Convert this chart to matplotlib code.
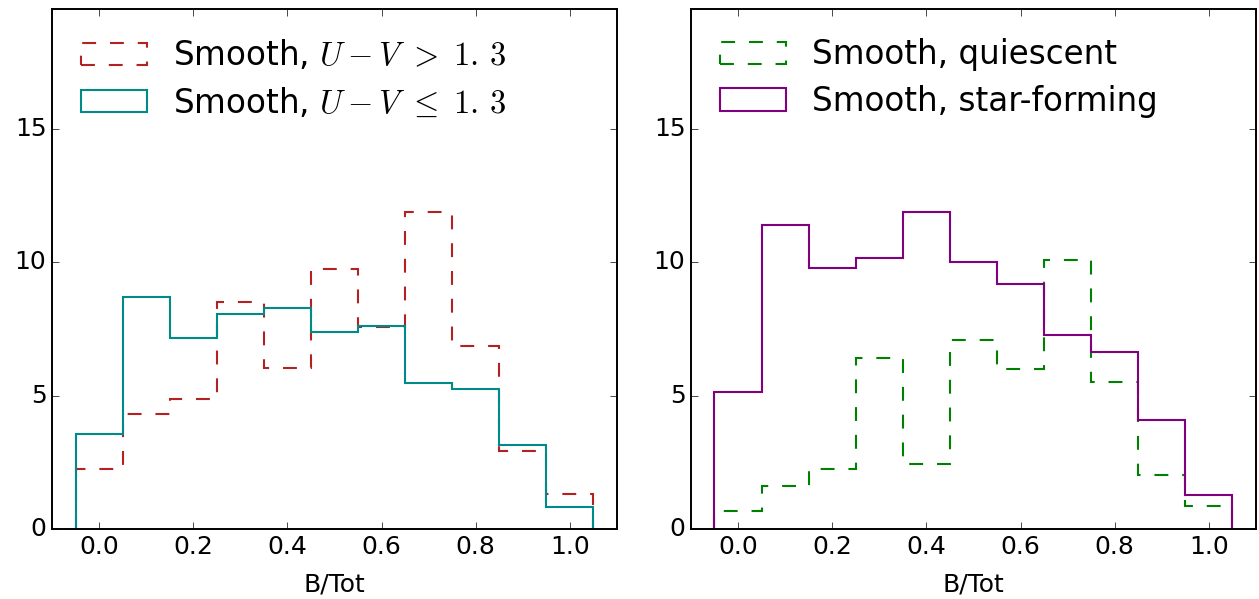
import numpy as np
import matplotlib
matplotlib.use("Agg")
import matplotlib.pyplot as plt

# bin edges for B/Tot, centred on 0.0, 0.1, ... 1.0
bin_edges = np.linspace(-0.05, 1.05, 12)
bin_centres = np.linspace(0.0, 1.0, 11)

# left panel: split by U-V colour
red_uv = [2.26, 4.31, 4.88, 8.50, 6.03, 9.75, 7.57, 11.87, 6.88, 2.91, 1.32]
blue_uv = [3.56, 8.71, 7.16, 8.08, 8.30, 7.38, 7.61, 5.49, 5.25, 3.16, 0.81]

# right panel: split by star formation
quiescent = [0.66, 1.63, 2.26, 6.40, 2.45, 7.10, 5.99, 10.09, 5.51, 2.01, 0.88]
star_forming = [5.15, 11.40, 9.78, 10.17, 11.88, 10.02, 9.17, 7.28, 6.63, 4.09, 1.26]

plt.style.use('classic')
plt.rcParams['figure.facecolor'] = 'white'
plt.rcParams['savefig.facecolor'] = 'white'
plt.rcParams['axes.linewidth'] = 1.4
plt.rcParams['xtick.major.size'] = 5
plt.rcParams['ytick.major.size'] = 5
plt.rcParams['xtick.labelsize'] = 18
plt.rcParams['ytick.labelsize'] = 18

fig = plt.figure(figsize=(12.59, 5.99), dpi=100)
ax1 = fig.add_axes([0.0413, 0.1169, 0.4488, 0.868])
ax2 = fig.add_axes([0.5488, 0.1169, 0.4488, 0.868])

dash = (0, (10, 10))
ax1.hist(bin_centres, bins=bin_edges, weights=red_uv, histtype='step',
         color='#b22222', linestyle=dash, linewidth=1.5,
         label=r'Smooth, $U-V\ >\ 1.\,3$')
ax1.hist(bin_centres, bins=bin_edges, weights=blue_uv, histtype='step',
         color='#008b8b', linewidth=1.5,
         label=r'Smooth, $U-V\ \leq\ 1.\,3$')

ax2.hist(bin_centres, bins=bin_edges, weights=quiescent, histtype='step',
         color='green', linestyle=dash, linewidth=1.5,
         label='Smooth, quiescent')
ax2.hist(bin_centres, bins=bin_edges, weights=star_forming, histtype='step',
         color='purple', linewidth=1.5,
         label='Smooth, star-forming')

for ax in (ax1, ax2):
    ax.set_xlim(-0.1, 1.1)
    ax.set_ylim(0, 19.5)
    ax.set_xticks([0.0, 0.2, 0.4, 0.6, 0.8, 1.0])
    ax.set_yticks([0, 5, 10, 15])
    ax.set_xlabel('B/Tot', fontsize=18, labelpad=10)
    ax.legend(loc='upper left', frameon=False, fontsize=23.5,
              labelspacing=0.42, borderaxespad=0.5)

fig.savefig('out.png', dpi=100)
